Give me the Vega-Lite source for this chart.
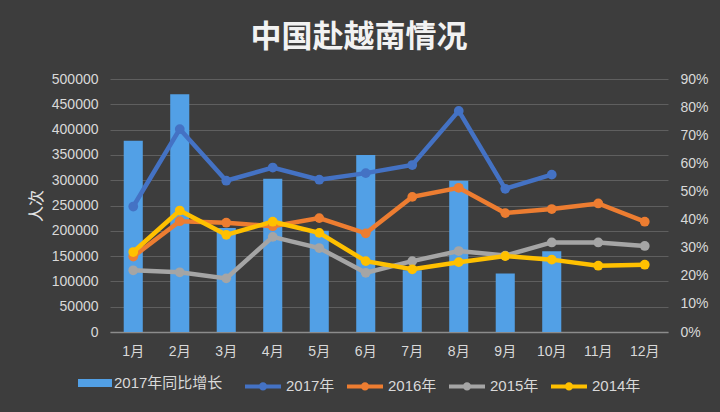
{
  "$schema": "https://vega.github.io/schema/vega-lite/v6.json",
  "description": "中国赴越南情况: monthly visitors 2014-2017 with 2017 year-on-year growth bars.",
  "autosize": {"type": "none"},
  "width": 558,
  "height": 253,
  "padding": {"left": 110, "top": 79, "right": 52, "bottom": 80},
  "background": "#3d3d3d",
  "title": {
    "text": "中国赴越南情况",
    "anchor": "middle",
    "frame": "group",
    "dx": -30,
    "offset": 18,
    "fontSize": 31,
    "fontWeight": "bold",
    "font": "Noto Sans CJK SC",
    "color": "#f2f2f2"
  },
  "datasets": {
    "growth": [
      {"month": "1月", "rate": 0.68},
      {"month": "2月", "rate": 0.846},
      {"month": "3月", "rate": 0.37},
      {"month": "4月", "rate": 0.545},
      {"month": "5月", "rate": 0.36},
      {"month": "6月", "rate": 0.63},
      {"month": "7月", "rate": 0.22},
      {"month": "8月", "rate": 0.538},
      {"month": "9月", "rate": 0.208},
      {"month": "10月", "rate": 0.287}
    ],
    "visitors": [
      {"month": "1月", "year": "2017年", "people": 248000},
      {"month": "2月", "year": "2017年", "people": 401000},
      {"month": "3月", "year": "2017年", "people": 299000},
      {"month": "4月", "year": "2017年", "people": 325000},
      {"month": "5月", "year": "2017年", "people": 301000},
      {"month": "6月", "year": "2017年", "people": 314000},
      {"month": "7月", "year": "2017年", "people": 330000},
      {"month": "8月", "year": "2017年", "people": 437000},
      {"month": "9月", "year": "2017年", "people": 283000},
      {"month": "10月", "year": "2017年", "people": 311000},
      {"month": "1月", "year": "2016年", "people": 149000},
      {"month": "2月", "year": "2016年", "people": 219000},
      {"month": "3月", "year": "2016年", "people": 216000},
      {"month": "4月", "year": "2016年", "people": 209000},
      {"month": "5月", "year": "2016年", "people": 225000},
      {"month": "6月", "year": "2016年", "people": 195000},
      {"month": "7月", "year": "2016年", "people": 267000},
      {"month": "8月", "year": "2016年", "people": 285000},
      {"month": "9月", "year": "2016年", "people": 235000},
      {"month": "10月", "year": "2016年", "people": 243000},
      {"month": "11月", "year": "2016年", "people": 254000},
      {"month": "12月", "year": "2016年", "people": 218000},
      {"month": "1月", "year": "2015年", "people": 122000},
      {"month": "2月", "year": "2015年", "people": 118000},
      {"month": "3月", "year": "2015年", "people": 106000},
      {"month": "4月", "year": "2015年", "people": 188000},
      {"month": "5月", "year": "2015年", "people": 166000},
      {"month": "6月", "year": "2015年", "people": 117000},
      {"month": "7月", "year": "2015年", "people": 140000},
      {"month": "8月", "year": "2015年", "people": 160000},
      {"month": "9月", "year": "2015年", "people": 151000},
      {"month": "10月", "year": "2015年", "people": 177000},
      {"month": "11月", "year": "2015年", "people": 177000},
      {"month": "12月", "year": "2015年", "people": 170000},
      {"month": "1月", "year": "2014年", "people": 158000},
      {"month": "2月", "year": "2014年", "people": 240000},
      {"month": "3月", "year": "2014年", "people": 192000},
      {"month": "4月", "year": "2014年", "people": 218000},
      {"month": "5月", "year": "2014年", "people": 196000},
      {"month": "6月", "year": "2014年", "people": 140000},
      {"month": "7月", "year": "2014年", "people": 124000},
      {"month": "8月", "year": "2014年", "people": 138000},
      {"month": "9月", "year": "2014年", "people": 150000},
      {"month": "10月", "year": "2014年", "people": 143000},
      {"month": "11月", "year": "2014年", "people": 131000},
      {"month": "12月", "year": "2014年", "people": 133000}
    ]
  },
  "layer": [
    {
      "data": {"name": "growth"},
      "mark": {"type": "bar", "color": "#52a0e6"},
      "encoding": {
        "x": {
          "field": "month",
          "type": "nominal",
          "sort": ["1月", "2月", "3月", "4月", "5月", "6月", "7月", "8月", "9月", "10月", "11月", "12月"],
          "scale": {
            "domain": ["1月", "2月", "3月", "4月", "5月", "6月", "7月", "8月", "9月", "10月", "11月", "12月"],
            "paddingInner": 0.59,
            "paddingOuter": 0.295
          },
          "axis": {
            "title": null,
            "labelAngle": 0,
            "labelPadding": 12,
            "labelFontSize": 14,
            "domain": true,
            "domainColor": "#8c8c8c",
            "domainWidth": 1.5
          }
        },
        "y": {
          "field": "rate",
          "type": "quantitative",
          "scale": {"domain": [0, 0.9], "nice": false},
          "axis": {
            "orient": "right",
            "title": null,
            "format": ".0%",
            "values": [0, 0.1, 0.2, 0.3, 0.4, 0.5, 0.6, 0.7, 0.8, 0.9],
            "labelPadding": 12,
            "grid": false
          }
        },
        "fill": {
          "datum": "2017年同比增长",
          "type": "nominal",
          "scale": {"range": ["#52a0e6"]},
          "legend": {
            "title": null,
            "orient": "none",
            "legendX": -32,
            "legendY": 287,
            "symbolType": "M-1,-0.24H1V0.24H-1Z",
            "symbolSize": 1156,
            "symbolStrokeWidth": 0,
            "labelOffset": 2
          }
        }
      }
    },
    {
      "data": {"name": "visitors"},
      "mark": {
        "type": "line",
        "strokeWidth": 4.5,
        "point": {"filled": true, "size": 95}
      },
      "encoding": {
        "x": {
          "field": "month",
          "type": "nominal",
          "sort": ["1月", "2月", "3月", "4月", "5月", "6月", "7月", "8月", "9月", "10月", "11月", "12月"]
        },
        "y": {
          "field": "people",
          "type": "quantitative",
          "scale": {"domain": [0, 500000], "nice": false},
          "axis": {
            "orient": "left",
            "title": "人次",
            "titleFontSize": 16,
            "titleFontWeight": "normal",
            "titleColor": "#e6e6e6",
            "titlePadding": 7,
            "format": "d",
            "values": [0, 50000, 100000, 150000, 200000, 250000, 300000, 350000, 400000, 450000, 500000],
            "labelPadding": 12,
            "grid": true,
            "gridColor": "#5f5f5f",
            "gridWidth": 1
          }
        },
        "color": {
          "field": "year",
          "type": "nominal",
          "scale": {
            "domain": ["2017年", "2016年", "2015年", "2014年"],
            "range": ["#4472c4", "#ed7d31", "#a5a5a5", "#ffc000"]
          },
          "legend": {
            "title": null,
            "orient": "none",
            "direction": "horizontal",
            "legendX": 133,
            "legendY": 287,
            "symbolType": "M-1,0H1M-0.12,0A0.12,0.12 0 1,0 0.12,0A0.12,0.12 0 1,0 -0.12,0Z",
            "symbolSize": 1296,
            "symbolStrokeWidth": 4,
            "labelOffset": 3,
            "columnPadding": 4,
            "encode": {
              "symbols": {"update": {"fill": {"scale": "color", "field": "value"}, "opacity": {"value": 1}}}
            }
          }
        }
      }
    }
  ],
  "resolve": {"scale": {"y": "independent"}},
  "config": {
    "font": "Liberation Sans, Noto Sans CJK SC, sans-serif",
    "view": {"stroke": null},
    "axis": {
      "labelColor": "#d9d9d9",
      "labelFontSize": 14,
      "domain": false,
      "ticks": false
    },
    "legend": {
      "labelColor": "#d9d9d9",
      "labelFontSize": 15
    }
  }
}
